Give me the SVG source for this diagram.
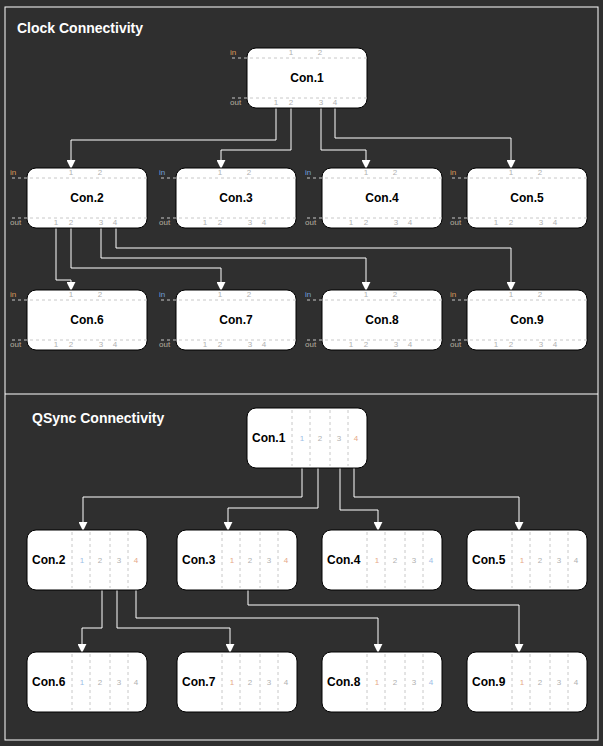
<svg xmlns="http://www.w3.org/2000/svg" width="603" height="746" viewBox="0 0 603 746">
<defs>
<marker id="ah" viewBox="0 0 10 10" refX="9" refY="5" markerWidth="9" markerHeight="9" markerUnits="userSpaceOnUse" orient="auto">
<path d="M0,0 L10,5 L0,10 z" fill="#ffffff"/>
</marker>
<style>
.box{fill:#ffffff;stroke:#000000;stroke-width:1}
.dash{stroke:#c8c8c8;stroke-width:1;stroke-dasharray:3,3;fill:none}
.lbl{font-family:"Liberation Sans",Arial,sans-serif;font-size:12px;font-weight:bold;fill:#000000;text-anchor:middle}
.qlbl{font-family:"Liberation Sans",Arial,sans-serif;font-size:12px;font-weight:bold;fill:#000000}
.num{font-family:"Liberation Sans",Arial,sans-serif;font-size:8px;fill:#b0b0b0;text-anchor:middle}
.side{font-family:"Liberation Sans",Arial,sans-serif;font-size:8px}
.or{fill:#d89a5a}
.bl{fill:#6f9fd8}
.gr{fill:#b8b0a0}
.nb{fill:#9dbde6}
.no{fill:#e6a888}
.title{font-family:"Liberation Sans",Arial,sans-serif;font-size:14px;font-weight:bold;fill:#ffffff}
.conn{stroke:#ffffff;stroke-width:1;fill:none;marker-end:url(#ah)}
</style>
</defs>
<rect x="0" y="0" width="603" height="746" fill="#2f2f2f"/>
<rect x="5" y="7" width="593" height="733" fill="none" stroke="#ffffff" stroke-width="1"/>
<line x1="5" y1="394" x2="598" y2="394" stroke="#ffffff" stroke-width="1"/>
<text class="title" x="17" y="33">Clock Connectivity</text>
<text class="title" x="32" y="423">QSync Connectivity</text>

<g id="connectors">
<path class="conn" d="M276,108 V140 H71 V168"/>
<path class="conn" d="M291,108 V150 H221 V168"/>
<path class="conn" d="M321,108 V150 H366 V168"/>
<path class="conn" d="M335,108 V138 H511 V168"/>
<path class="conn" d="M56,228 V280 H71 V290"/>
<path class="conn" d="M71,228 V268 H221 V290"/>
<path class="conn" d="M101,228 V258 H366 V290"/>
<path class="conn" d="M116,228 V248 H511 V290"/>
<path class="conn" d="M302,468 V497 H83 V530"/>
<path class="conn" d="M318,468 V508 H228 V530"/>
<path class="conn" d="M340,468 V510 H378 V530"/>
<path class="conn" d="M354,468 V497 H519 V530"/>
<path class="conn" d="M102,590 V628 H82 V652"/>
<path class="conn" d="M117,590 V628 H230 V652"/>
<path class="conn" d="M136,590 V618 H378 V652"/>
<path class="conn" d="M248,590 V605 H519 V652"/>
</g>

<!-- Clock nodes -->
<g id="clk-con1" transform="translate(247,48)">
<rect class="box" x="0" y="0" width="120" height="60" rx="9"/>
<line class="dash" x1="-15" y1="10" x2="120" y2="10"/>
<line class="dash" x1="-15" y1="50" x2="120" y2="50"/>
<text class="side or" x="-17" y="7">in</text>
<text class="side gr" x="-17" y="57">out</text>
<text class="num" x="44" y="7">1</text><text class="num" x="73" y="7">2</text>
<text class="num" x="29" y="57">1</text><text class="num" x="44" y="57">2</text><text class="num" x="74" y="57">3</text><text class="num" x="88" y="57">4</text>
<text class="lbl" x="60" y="34">Con.1</text>
</g>
<g id="clk-con2" transform="translate(27,168)">
<rect class="box" x="0" y="0" width="120" height="60" rx="9"/>
<line class="dash" x1="-15" y1="10" x2="120" y2="10"/>
<line class="dash" x1="-15" y1="50" x2="120" y2="50"/>
<text class="side or" x="-17" y="7">in</text>
<text class="side gr" x="-17" y="57">out</text>
<text class="num" x="44" y="7">1</text><text class="num" x="73" y="7">2</text>
<text class="num" x="29" y="57">1</text><text class="num" x="44" y="57">2</text><text class="num" x="74" y="57">3</text><text class="num" x="88" y="57">4</text>
<text class="lbl" x="60" y="34">Con.2</text>
</g>
<g id="clk-con3" transform="translate(176,168)">
<rect class="box" x="0" y="0" width="120" height="60" rx="9"/>
<line class="dash" x1="-15" y1="10" x2="120" y2="10"/>
<line class="dash" x1="-15" y1="50" x2="120" y2="50"/>
<text class="side bl" x="-17" y="7">in</text>
<text class="side gr" x="-17" y="57">out</text>
<text class="num" x="44" y="7">1</text><text class="num" x="73" y="7">2</text>
<text class="num" x="29" y="57">1</text><text class="num" x="44" y="57">2</text><text class="num" x="74" y="57">3</text><text class="num" x="88" y="57">4</text>
<text class="lbl" x="60" y="34">Con.3</text>
</g>
<g id="clk-con4" transform="translate(322,168)">
<rect class="box" x="0" y="0" width="120" height="60" rx="9"/>
<line class="dash" x1="-15" y1="10" x2="120" y2="10"/>
<line class="dash" x1="-15" y1="50" x2="120" y2="50"/>
<text class="side bl" x="-17" y="7">in</text>
<text class="side gr" x="-17" y="57">out</text>
<text class="num" x="44" y="7">1</text><text class="num" x="73" y="7">2</text>
<text class="num" x="29" y="57">1</text><text class="num" x="44" y="57">2</text><text class="num" x="74" y="57">3</text><text class="num" x="88" y="57">4</text>
<text class="lbl" x="60" y="34">Con.4</text>
</g>
<g id="clk-con5" transform="translate(467,168)">
<rect class="box" x="0" y="0" width="120" height="60" rx="9"/>
<line class="dash" x1="-15" y1="10" x2="120" y2="10"/>
<line class="dash" x1="-15" y1="50" x2="120" y2="50"/>
<text class="side or" x="-17" y="7">in</text>
<text class="side gr" x="-17" y="57">out</text>
<text class="num" x="44" y="7">1</text><text class="num" x="73" y="7">2</text>
<text class="num" x="29" y="57">1</text><text class="num" x="44" y="57">2</text><text class="num" x="74" y="57">3</text><text class="num" x="88" y="57">4</text>
<text class="lbl" x="60" y="34">Con.5</text>
</g>
<g id="clk-con6" transform="translate(27,290)">
<rect class="box" x="0" y="0" width="120" height="60" rx="9"/>
<line class="dash" x1="-15" y1="10" x2="120" y2="10"/>
<line class="dash" x1="-15" y1="50" x2="120" y2="50"/>
<text class="side or" x="-17" y="7">in</text>
<text class="side gr" x="-17" y="57">out</text>
<text class="num" x="44" y="7">1</text><text class="num" x="73" y="7">2</text>
<text class="num" x="29" y="57">1</text><text class="num" x="44" y="57">2</text><text class="num" x="74" y="57">3</text><text class="num" x="88" y="57">4</text>
<text class="lbl" x="60" y="34">Con.6</text>
</g>
<g id="clk-con7" transform="translate(176,290)">
<rect class="box" x="0" y="0" width="120" height="60" rx="9"/>
<line class="dash" x1="-15" y1="10" x2="120" y2="10"/>
<line class="dash" x1="-15" y1="50" x2="120" y2="50"/>
<text class="side bl" x="-17" y="7">in</text>
<text class="side gr" x="-17" y="57">out</text>
<text class="num" x="44" y="7">1</text><text class="num" x="73" y="7">2</text>
<text class="num" x="29" y="57">1</text><text class="num" x="44" y="57">2</text><text class="num" x="74" y="57">3</text><text class="num" x="88" y="57">4</text>
<text class="lbl" x="60" y="34">Con.7</text>
</g>
<g id="clk-con8" transform="translate(322,290)">
<rect class="box" x="0" y="0" width="120" height="60" rx="9"/>
<line class="dash" x1="-15" y1="10" x2="120" y2="10"/>
<line class="dash" x1="-15" y1="50" x2="120" y2="50"/>
<text class="side bl" x="-17" y="7">in</text>
<text class="side gr" x="-17" y="57">out</text>
<text class="num" x="44" y="7">1</text><text class="num" x="73" y="7">2</text>
<text class="num" x="29" y="57">1</text><text class="num" x="44" y="57">2</text><text class="num" x="74" y="57">3</text><text class="num" x="88" y="57">4</text>
<text class="lbl" x="60" y="34">Con.8</text>
</g>
<g id="clk-con9" transform="translate(467,290)">
<rect class="box" x="0" y="0" width="120" height="60" rx="9"/>
<line class="dash" x1="-15" y1="10" x2="120" y2="10"/>
<line class="dash" x1="-15" y1="50" x2="120" y2="50"/>
<text class="side or" x="-17" y="7">in</text>
<text class="side gr" x="-17" y="57">out</text>
<text class="num" x="44" y="7">1</text><text class="num" x="73" y="7">2</text>
<text class="num" x="29" y="57">1</text><text class="num" x="44" y="57">2</text><text class="num" x="74" y="57">3</text><text class="num" x="88" y="57">4</text>
<text class="lbl" x="60" y="34">Con.9</text>
</g>

<!-- QSync nodes -->
<g id="qs-con1" transform="translate(247,408)">
<rect class="box" x="0" y="0" width="120" height="60" rx="9"/>
<line class="dash" x1="45" y1="2" x2="45" y2="58"/><line class="dash" x1="63" y1="2" x2="63" y2="58"/><line class="dash" x1="83" y1="2" x2="83" y2="58"/><line class="dash" x1="101" y1="2" x2="101" y2="58"/>
<text class="qlbl" x="5" y="34">Con.1</text>
<text class="num nb" x="55" y="33">1</text><text class="num" x="73" y="33">2</text><text class="num" x="92" y="33">3</text><text class="num no" x="109" y="33">4</text>
</g>
<g id="qs-con2" transform="translate(27,530)">
<rect class="box" x="0" y="0" width="120" height="60" rx="9"/>
<line class="dash" x1="45" y1="2" x2="45" y2="58"/><line class="dash" x1="63" y1="2" x2="63" y2="58"/><line class="dash" x1="83" y1="2" x2="83" y2="58"/><line class="dash" x1="101" y1="2" x2="101" y2="58"/>
<text class="qlbl" x="5" y="34">Con.2</text>
<text class="num nb" x="55" y="33">1</text><text class="num" x="73" y="33">2</text><text class="num" x="92" y="33">3</text><text class="num no" x="109" y="33">4</text>
</g>
<g id="qs-con3" transform="translate(177,530)">
<rect class="box" x="0" y="0" width="120" height="60" rx="9"/>
<line class="dash" x1="45" y1="2" x2="45" y2="58"/><line class="dash" x1="63" y1="2" x2="63" y2="58"/><line class="dash" x1="83" y1="2" x2="83" y2="58"/><line class="dash" x1="101" y1="2" x2="101" y2="58"/>
<text class="qlbl" x="5" y="34">Con.3</text>
<text class="num no" x="55" y="33">1</text><text class="num" x="73" y="33">2</text><text class="num" x="92" y="33">3</text><text class="num no" x="109" y="33">4</text>
</g>
<g id="qs-con4" transform="translate(322,530)">
<rect class="box" x="0" y="0" width="120" height="60" rx="9"/>
<line class="dash" x1="45" y1="2" x2="45" y2="58"/><line class="dash" x1="63" y1="2" x2="63" y2="58"/><line class="dash" x1="83" y1="2" x2="83" y2="58"/><line class="dash" x1="101" y1="2" x2="101" y2="58"/>
<text class="qlbl" x="5" y="34">Con.4</text>
<text class="num no" x="55" y="33">1</text><text class="num" x="73" y="33">2</text><text class="num" x="92" y="33">3</text><text class="num nb" x="109" y="33">4</text>
</g>
<g id="qs-con5" transform="translate(467,530)">
<rect class="box" x="0" y="0" width="120" height="60" rx="9"/>
<line class="dash" x1="45" y1="2" x2="45" y2="58"/><line class="dash" x1="63" y1="2" x2="63" y2="58"/><line class="dash" x1="83" y1="2" x2="83" y2="58"/><line class="dash" x1="101" y1="2" x2="101" y2="58"/>
<text class="qlbl" x="5" y="34">Con.5</text>
<text class="num no" x="55" y="33">1</text><text class="num" x="73" y="33">2</text><text class="num" x="92" y="33">3</text><text class="num" x="109" y="33">4</text>
</g>
<g id="qs-con6" transform="translate(27,652)">
<rect class="box" x="0" y="0" width="120" height="60" rx="9"/>
<line class="dash" x1="45" y1="2" x2="45" y2="58"/><line class="dash" x1="63" y1="2" x2="63" y2="58"/><line class="dash" x1="83" y1="2" x2="83" y2="58"/><line class="dash" x1="101" y1="2" x2="101" y2="58"/>
<text class="qlbl" x="5" y="34">Con.6</text>
<text class="num nb" x="55" y="33">1</text><text class="num" x="73" y="33">2</text><text class="num" x="92" y="33">3</text><text class="num" x="109" y="33">4</text>
</g>
<g id="qs-con7" transform="translate(177,652)">
<rect class="box" x="0" y="0" width="120" height="60" rx="9"/>
<line class="dash" x1="45" y1="2" x2="45" y2="58"/><line class="dash" x1="63" y1="2" x2="63" y2="58"/><line class="dash" x1="83" y1="2" x2="83" y2="58"/><line class="dash" x1="101" y1="2" x2="101" y2="58"/>
<text class="qlbl" x="5" y="34">Con.7</text>
<text class="num no" x="55" y="33">1</text><text class="num" x="73" y="33">2</text><text class="num" x="92" y="33">3</text><text class="num" x="109" y="33">4</text>
</g>
<g id="qs-con8" transform="translate(322,652)">
<rect class="box" x="0" y="0" width="120" height="60" rx="9"/>
<line class="dash" x1="45" y1="2" x2="45" y2="58"/><line class="dash" x1="63" y1="2" x2="63" y2="58"/><line class="dash" x1="83" y1="2" x2="83" y2="58"/><line class="dash" x1="101" y1="2" x2="101" y2="58"/>
<text class="qlbl" x="5" y="34">Con.8</text>
<text class="num no" x="55" y="33">1</text><text class="num" x="73" y="33">2</text><text class="num" x="92" y="33">3</text><text class="num nb" x="109" y="33">4</text>
</g>
<g id="qs-con9" transform="translate(467,652)">
<rect class="box" x="0" y="0" width="120" height="60" rx="9"/>
<line class="dash" x1="45" y1="2" x2="45" y2="58"/><line class="dash" x1="63" y1="2" x2="63" y2="58"/><line class="dash" x1="83" y1="2" x2="83" y2="58"/><line class="dash" x1="101" y1="2" x2="101" y2="58"/>
<text class="qlbl" x="5" y="34">Con.9</text>
<text class="num no" x="55" y="33">1</text><text class="num" x="73" y="33">2</text><text class="num" x="92" y="33">3</text><text class="num" x="109" y="33">4</text>
</g>
</svg>
